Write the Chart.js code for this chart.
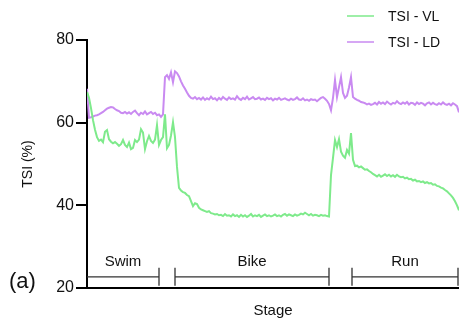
<!DOCTYPE html>
<html>
<head>
<meta charset="utf-8">
<title>TSI by stage</title>
<script src="https://cdn.jsdelivr.net/npm/chart.js@4.4.1/dist/chart.umd.min.js"></script>
<style>
  html, body { margin: 0; padding: 0; background: #fff; }
  #tsiChart { display: block; }
</style>
</head>
<body>
<canvas id="tsiChart" width="459" height="328"></canvas>
<script>
// ================= DATA =================
// one sample every 2 units along the stage axis (0 .. 372)
const sampleStep = 2;

const tsiVL = [
  67.4, 66.0, 63.5, 60.6, 58.3, 56.5, 55.6, 55.9, 55.3, 57.8,
  58.2, 56.0, 55.4, 55.0, 55.3, 54.9, 54.4, 54.8, 55.8, 54.6,
  54.1, 55.2, 53.6, 53.9, 55.8, 55.3, 55.9, 58.4, 57.6, 53.6,
  55.5, 56.8, 55.6, 55.1, 55.9, 59.4, 54.6, 55.8, 56.5, 62.0,
  53.8, 54.6, 56.9, 60.1, 56.5, 49.3, 44.2, 43.6, 43.2, 43.0,
  42.5, 42.2, 41.0, 39.8, 40.5, 40.3, 39.4, 39.0, 38.8, 38.6,
  38.4, 38.6, 38.1, 38.0, 37.8, 37.9, 37.6, 37.7, 37.4, 37.9,
  37.5, 37.6, 37.3, 37.8, 37.4, 37.6, 37.2, 37.7, 37.3, 37.6,
  37.2, 37.5, 37.9, 37.3, 37.6, 37.4, 37.7, 37.2, 37.5, 37.8,
  37.4, 37.6, 37.3, 37.5, 37.8, 37.4, 37.6, 37.3, 37.7, 37.9,
  37.5, 37.8, 37.6, 37.4, 37.8, 37.5, 37.7, 38.0, 37.8, 38.2,
  37.9, 37.6, 37.9, 37.5, 37.7, 37.6, 37.4, 37.7, 37.5, 37.6,
  37.4, 37.3, 47.3, 51.5, 55.8, 54.1, 56.0, 53.0, 52.0, 51.5,
  53.4, 52.5, 57.5, 51.0, 49.5, 49.6, 49.2, 49.4, 49.0, 48.6,
  48.7, 48.3, 48.0, 47.6, 47.3, 47.0, 47.4, 46.9, 47.2, 47.5,
  47.1, 47.4, 47.0, 47.3, 46.9, 47.4, 47.0, 46.8, 46.9, 46.5,
  46.7, 46.3, 46.4, 46.0, 46.2, 45.8, 45.9, 45.6, 45.8, 45.4,
  45.6, 45.3, 45.4, 45.0, 45.1, 44.7, 44.6, 44.3, 44.1, 43.7,
  43.4, 42.9, 42.4, 41.8, 41.0, 40.0, 38.8
];

const tsiLD = [
  68.2, 61.2, 61.3, 61.5, 61.7, 61.8, 62.0, 62.3, 62.6, 63.0,
  63.4, 63.6, 63.8, 63.7, 63.3, 63.0, 62.8, 62.4, 62.3, 62.6,
  62.2, 62.5, 62.1, 62.6, 62.9, 62.3, 61.8, 62.4, 62.1, 62.7,
  62.0, 62.3, 62.6, 62.1, 62.4, 61.8, 62.0, 61.4, 62.0, 71.0,
  71.5, 70.6, 72.2, 69.8, 72.4, 72.0, 71.2, 70.0, 69.0, 68.2,
  67.3, 66.5, 66.0, 65.8, 66.2, 65.7, 66.0, 65.6, 66.1, 65.5,
  65.9, 65.6, 66.3, 65.7, 65.9, 65.4, 66.0, 65.6, 66.2, 65.8,
  65.5, 66.1, 65.7, 65.9, 65.6, 66.4, 65.8, 65.5, 66.0, 65.7,
  66.3, 65.6, 65.9, 66.2, 65.7, 65.8, 66.1, 65.6, 65.8, 65.5,
  66.0, 65.7, 65.9, 65.4, 65.8, 65.6, 66.0, 65.5, 65.7, 65.9,
  65.6, 65.4, 65.8, 65.5, 65.7, 66.1, 65.6, 65.5, 65.9, 65.4,
  65.6, 65.3, 65.7, 65.5, 65.6, 65.2, 65.6, 66.0, 66.2, 65.8,
  65.3, 64.5, 63.0, 66.0, 70.3, 66.2, 68.6, 71.0, 67.2, 66.0,
  66.5, 68.5, 71.0, 66.2, 65.8, 65.5, 65.3, 65.0, 64.9, 64.7,
  64.4, 64.6, 64.3, 64.5, 64.8, 64.4, 65.0, 64.6, 64.9, 64.5,
  65.1, 64.7, 64.4, 64.8, 64.6, 65.2, 64.7, 64.5, 64.9, 64.6,
  65.0, 64.4, 64.8, 64.7, 64.3, 64.9, 64.5, 64.8, 64.6, 64.2,
  64.7, 64.9, 64.4, 64.8, 64.5, 64.3, 64.7, 64.4, 64.9, 64.5,
  64.3, 64.6, 64.2, 64.7, 64.4, 64.0, 62.5
];

// stage brackets under the traces, in stage-axis units
const stageNames = ["Swim", "Bike", "Run"];
const stageStart = [0, 88, 265];
const stageEnd = [72, 242, 372];

const yTicks = [20, 40, 60, 80];

// ================= STYLE =================
const FONT = "'Liberation Sans', Arial, Helvetica, sans-serif";
const GREEN = "#7eea8b";
const PURPLE = "#c98af1";

function toPoints(values) {
  return values.map((v, i) => ({ x: i * sampleStep, y: v }));
}

// ================= EXTRAS (legend, stages, panel tag) =================
const extrasPlugin = {
  id: "extras",
  afterDraw(chart) {
    const { ctx, scales } = chart;
    const xs = scales.x;
    const ys = scales.y;

    ctx.save();

    // legend, top right
    chart.data.datasets.forEach((ds, i) => {
      const y = 16 + i * 26;
      ctx.strokeStyle = ds.borderColor;
      ctx.lineWidth = 1.5;
      ctx.beginPath();
      ctx.moveTo(347, y);
      ctx.lineTo(374, y);
      ctx.stroke();

      ctx.fillStyle = "#111";
      ctx.font = "14px " + FONT;
      ctx.textAlign = "left";
      ctx.textBaseline = "middle";
      ctx.fillText(ds.label, 388, y + 1);
    });

    // stage brackets
    const barY = ys.getPixelForValue(22.7);
    const textY = ys.getPixelForValue(26.3);
    ctx.strokeStyle = "#333";
    ctx.lineWidth = 1.3;
    ctx.fillStyle = "#111";
    ctx.font = "15px " + FONT;
    ctx.textAlign = "center";
    ctx.textBaseline = "middle";

    stageNames.forEach((name, i) => {
      const x1 = xs.getPixelForValue(stageStart[i]);
      const x2 = Math.min(xs.getPixelForValue(stageEnd[i]), chart.width - 1);

      ctx.beginPath();
      ctx.moveTo(x1, barY);
      ctx.lineTo(x2, barY);
      if (stageStart[i] > 0) {
        ctx.moveTo(x1, barY - 9);
        ctx.lineTo(x1, barY + 9);
      }
      ctx.moveTo(x2, barY - 9);
      ctx.lineTo(x2, barY + 9);
      ctx.stroke();

      ctx.fillText(name, (x1 + x2) / 2, textY);
    });

    // panel tag
    ctx.font = "22px " + FONT;
    ctx.textAlign = "left";
    ctx.fillText("(a)", 9, 282);

    ctx.restore();
  },
};

// ================= CHART =================
const ctx = document.getElementById("tsiChart").getContext("2d");

new Chart(ctx, {
  type: "line",
  data: {
    datasets: [
      {
        label: "TSI - VL",
        data: toPoints(tsiVL),
        borderColor: GREEN,
        borderWidth: 2,
        pointRadius: 0,
        tension: 0,
      },
      {
        label: "TSI - LD",
        data: toPoints(tsiLD),
        borderColor: PURPLE,
        borderWidth: 2,
        pointRadius: 0,
        tension: 0,
      },
    ],
  },
  options: {
    responsive: false,
    animation: false,
    devicePixelRatio: 1,
    layout: { padding: { top: 40, right: 0, bottom: 0, left: 0 } },
    plugins: {
      legend: { display: false },
      tooltip: { enabled: false },
    },
    scales: {
      x: {
        type: "linear",
        min: 0,
        max: (tsiVL.length - 1) * sampleStep,
        grid: { display: false },
        ticks: { display: false },
        border: { display: true, color: "#000", width: 2 },
        title: {
          display: true,
          text: "Stage",
          color: "#111",
          font: { family: FONT, size: 15 },
          padding: { top: 0, bottom: 8 },
        },
        afterFit(scale) {
          scale.height = 40;
        },
      },
      y: {
        min: yTicks[0],
        max: yTicks[yTicks.length - 1],
        afterBuildTicks(scale) {
          scale.ticks = yTicks.map(v => ({ value: v }));
        },
        grid: {
          display: true,
          drawOnChartArea: false,
          drawTicks: true,
          tickLength: 11,
          color: "#000",
          lineWidth: 2,
        },
        border: { display: true, color: "#000", width: 2 },
        ticks: {
          color: "#111",
          padding: 2,
          font: { family: FONT, size: 16 },
        },
        title: {
          display: true,
          text: "TSI (%)",
          color: "#111",
          font: { family: FONT, size: 14 },
          padding: { top: 20, bottom: 0 },
        },
        afterFit(scale) {
          scale.width = 87;
        },
      },
    },
  },
  plugins: [extrasPlugin],
});
</script>
</body>
</html>
